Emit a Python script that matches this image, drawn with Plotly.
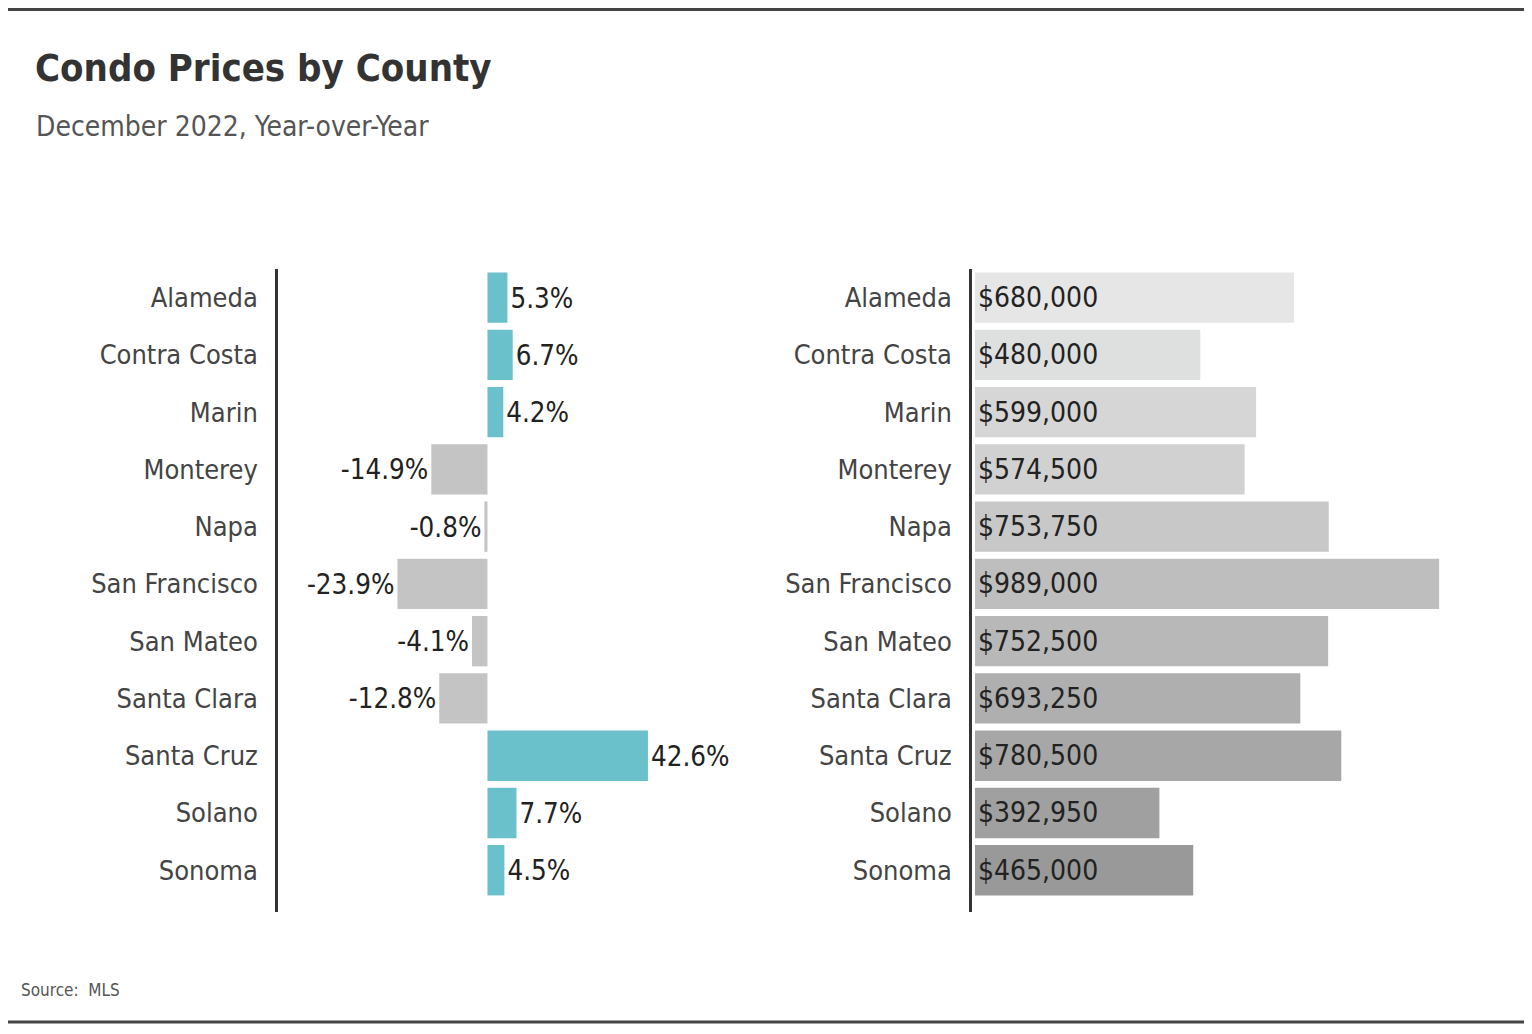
import plotly.graph_objects as go

counties = ["Alameda", "Contra Costa", "Marin", "Monterey", "Napa", "San Francisco",
            "San Mateo", "Santa Clara", "Santa Cruz", "Solano", "Sonoma"]
yoy_change = [5.3, 6.7, 4.2, -14.9, -0.8, -23.9, -4.1, -12.8, 42.6, 7.7, 4.5]
median_price = [680000, 480000, 599000, 574500, 753750, 989000, 752500, 693250, 780500, 392950, 465000]
price_colors = ["#E6E6E6", "#DEDFDF", "#D6D6D6", "#D1D1D1", "#C8C8C8", "#BEBEBE",
                "#B8B8B8", "#AFAFAF", "#A7A7A7", "#A0A0A0", "#999999"]

FONT = "Liberation Sans Narrow, DejaVu Sans Condensed, Roboto, sans-serif"
W, H = 1516, 1018
OFF = 8  # page body margin


def px(x):
    return (x - OFF) / W


def py(y):
    return 1 - (y - OFF) / H


pos = list(range(len(counties)))

teal = "#6BC1CB"
neg = "#C4C4C4"
yoy_colors = [teal if v >= 0 else neg for v in yoy_change]
yoy_text = [f"{v:.1f}%" for v in yoy_change]
price_text = [f"${v:,.0f}" for v in median_price]

fig = go.Figure()
fig.add_trace(go.Bar(
    x=yoy_change, y=pos, orientation="h", marker=dict(color=yoy_colors, line=dict(width=0)),
    text=yoy_text, textposition="outside", cliponaxis=False,
    textfont=dict(family=FONT, size=27.5, color="#222222"),
    width=0.88, xaxis="x", yaxis="y", hoverinfo="skip"))
fig.add_trace(go.Bar(
    x=median_price, y=pos, orientation="h", marker=dict(color=price_colors, line=dict(width=0)),
    text=price_text, textposition="inside", insidetextanchor="start",
    textfont=dict(family=FONT, size=28, color="#222222"),
    width=0.88, xaxis="x2", yaxis="y2", hoverinfo="skip"))

ytop = py(269)
ybot = py(912)
yrange = [10.73, -0.5]

tickfont = dict(family=FONT, size=27, color="#444444")

fig.update_layout(
    width=W, height=H, margin=dict(l=0, r=0, t=0, b=0),
    paper_bgcolor="white", plot_bgcolor="white", showlegend=False,
    uniformtext=dict(mode=False),
    xaxis=dict(domain=[px(278), px(770)], range=[-55.6, 75], visible=False, fixedrange=True),
    yaxis=dict(domain=[ybot, ytop], range=yrange, tickvals=pos, ticktext=counties,
               showline=True, linecolor="#333333", linewidth=2.5, showgrid=False,
               zeroline=False, ticks="", ticklabelstandoff=12, automargin=False,
               tickfont=tickfont),
    xaxis2=dict(domain=[px(972), px(1510)], range=[-6400, 1140000], visible=False, fixedrange=True),
    yaxis2=dict(domain=[ybot, ytop], range=yrange, tickvals=pos, ticktext=counties,
                anchor="x2", showline=True, linecolor="#333333", linewidth=2.5, showgrid=False,
                zeroline=False, ticks="", ticklabelstandoff=12, automargin=False,
                tickfont=tickfont),
    shapes=[
        dict(type="line", xref="paper", yref="paper", x0=0, x1=1, y0=1 - 1.5 / H, y1=1 - 1.5 / H,
             line=dict(color="#444444", width=3)),
        dict(type="line", xref="paper", yref="paper", x0=0, x1=1, y0=py(1022), y1=py(1022),
             line=dict(color="#444444", width=3)),
    ],
    annotations=[
        dict(text="<b>Condo Prices by County</b>", xref="paper", yref="paper",
             x=px(33), y=py(68), xanchor="left", yanchor="middle", showarrow=False,
             font=dict(family=FONT, size=38, color="#333333")),
        dict(text="December 2022, Year-over-Year", xref="paper", yref="paper",
             x=px(34), y=py(126), xanchor="left", yanchor="middle", showarrow=False,
             font=dict(family=FONT, size=28, color="#555555")),
        dict(text="Source:  MLS", xref="paper", yref="paper",
             x=px(19), y=py(990), xanchor="left", yanchor="middle", showarrow=False,
             font=dict(family=FONT, size=17, color="#555555")),
    ],
)

fig.write_html("out.html")
